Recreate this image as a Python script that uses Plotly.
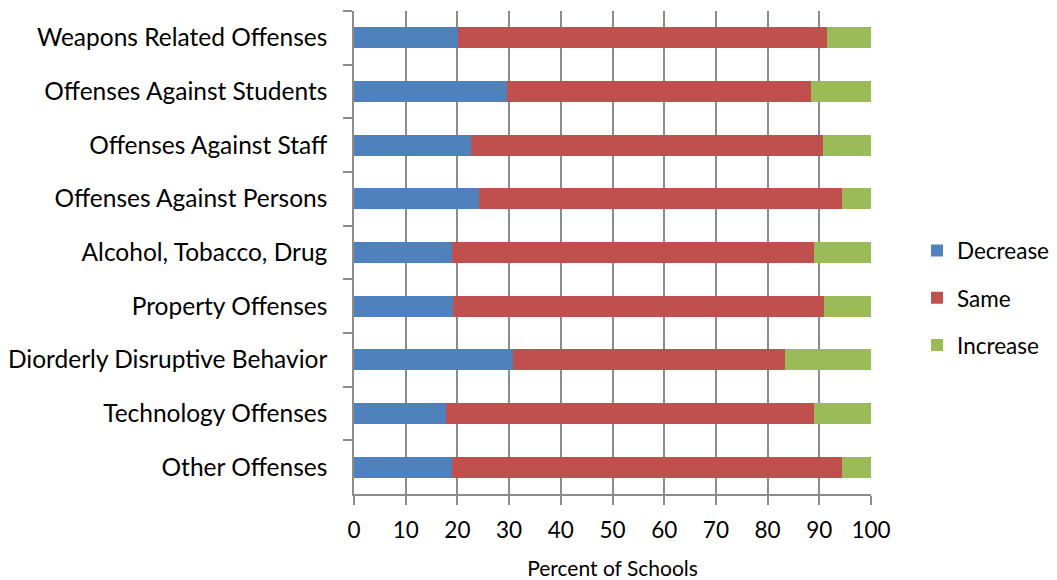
import plotly.graph_objects as go

# Offense categories, listed top to bottom
categories = [
    "Weapons Related Offenses",
    "Offenses Against Students",
    "Offenses Against Staff",
    "Offenses Against Persons",
    "Alcohol, Tobacco, Drug",
    "Property Offenses",
    "Diorderly Disruptive Behavior",
    "Technology Offenses",
    "Other Offenses",
]

# Percent of schools reporting each change
decrease = [20.1, 29.6, 22.6, 24.1, 18.9, 19.1, 30.7, 17.8, 18.9]
same = [71.3, 58.8, 68.2, 70.3, 70.0, 71.9, 52.6, 71.1, 75.4]
increase = [8.6, 11.6, 9.2, 5.6, 11.1, 9.0, 16.7, 11.1, 5.7]

x_ticks = [0, 10, 20, 30, 40, 50, 60, 70, 80, 90, 100]

series = [
    ("Decrease", decrease, "#4F81BD"),
    ("Same", same, "#C0504D"),
    ("Increase", increase, "#9BBB59"),
]

FONT = "Lato"
GRID = "#8c8c8c"

fig = go.Figure()
for name, vals, color in series:
    fig.add_trace(go.Bar(
        name=name,
        y=categories,
        x=vals,
        orientation="h",
        marker=dict(color=color, line=dict(width=0)),
        legendgroup=name,
    ))

fig.update_layout(
    width=1057,
    height=580,
    barmode="stack",
    bargap=0.61,
    paper_bgcolor="white",
    plot_bgcolor="white",
    margin=dict(l=354, r=186, t=11, b=86, autoexpand=False),
    font=dict(family=FONT, color="#000000"),
    legend=dict(
        x=1.089, xanchor="left", xref="paper",
        y=0.406, yanchor="middle",
        traceorder="grouped",
        tracegroupgap=15,
        font=dict(size=22.5, family=FONT),
        itemwidth=30,
        bgcolor="rgba(0,0,0,0)",
    ),
    xaxis=dict(
        range=[0, 100],
        tickvals=x_ticks,
        ticks="outside",
        ticklen=9,
        tickwidth=1.5,
        tickcolor=GRID,
        showgrid=True,
        gridcolor=GRID,
        gridwidth=1.5,
        showline=True,
        linecolor=GRID,
        linewidth=1.5,
        zeroline=False,
        automargin=False,
        tickfont=dict(size=22.5, family=FONT),
        ticklabelstandoff=6,
        title=dict(text="Percent of Schools", font=dict(size=21, family=FONT), standoff=22),
    ),
    yaxis=dict(
        categoryorder="array",
        categoryarray=categories,
        autorange="reversed",
        ticks="outside",
        tickson="boundaries",
        ticklen=9,
        tickwidth=1.5,
        tickcolor=GRID,
        showline=True,
        linecolor=GRID,
        linewidth=1.5,
        showgrid=False,
        automargin=False,
        tickfont=dict(size=24.5, family=FONT),
        ticklabelstandoff=20,
    ),
)

fig.write_html("out.html")
